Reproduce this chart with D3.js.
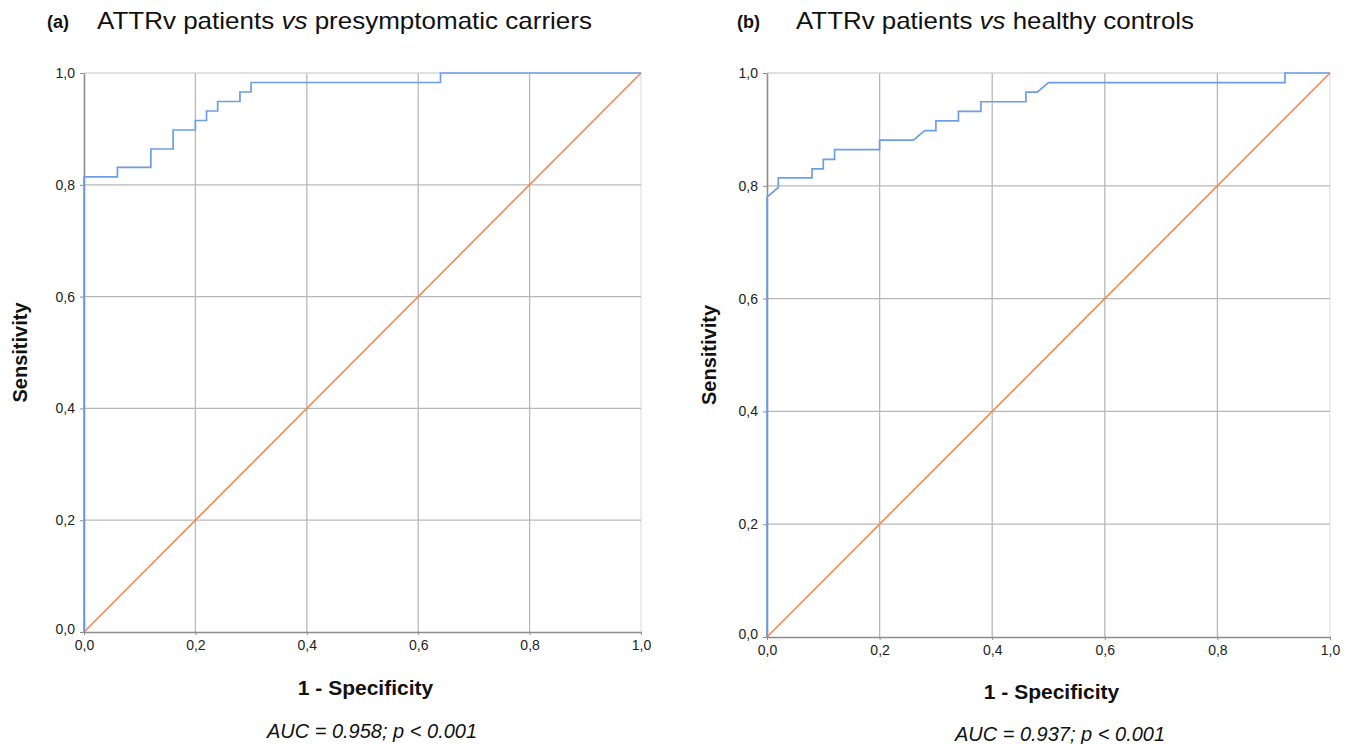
<!DOCTYPE html>
<html>
<head>
<meta charset="utf-8">
<script src="https://cdn.jsdelivr.net/npm/d3@7/dist/d3.min.js"></script>
<style>
  body { margin: 0; background: #fff; }
  svg { font-family: "Liberation Sans", Arial, sans-serif; }
</style>
</head>
<body>
<svg id="chart" width="1352" height="744"></svg>
<script>
// ROC curve points (1 - specificity, sensitivity)
const fprA = [0, 0, 0.06, 0.06, 0.12, 0.12, 0.16, 0.16, 0.20, 0.20, 0.22, 0.22, 0.24, 0.24, 0.28, 0.28, 0.30, 0.30, 0.64, 0.64, 1.0];
const sensA = [0, 0.814, 0.814, 0.831, 0.831, 0.864, 0.864, 0.898, 0.898, 0.915, 0.915, 0.932, 0.932, 0.949, 0.949, 0.966, 0.966, 0.983, 0.983, 1, 1];

const fprB = [0, 0, 0.02, 0.02, 0.08, 0.08, 0.10, 0.10, 0.12, 0.12, 0.20, 0.20, 0.26, 0.28, 0.30, 0.30, 0.34, 0.34, 0.38, 0.38, 0.46, 0.46, 0.48, 0.50, 0.92, 0.92, 1.0];
const sensB = [0, 0.780, 0.797, 0.814, 0.814, 0.830, 0.830, 0.847, 0.847, 0.864, 0.864, 0.881, 0.881, 0.898, 0.898, 0.915, 0.915, 0.932, 0.932, 0.949, 0.949, 0.966, 0.966, 0.983, 0.983, 1, 1];

const refLine = [0, 1];
const ticks = [0, 0.2, 0.4, 0.6, 0.8, 1.0];
const tickLabels = ["0,0", "0,2", "0,4", "0,6", "0,8", "1,0"];

const panels = [
  {tag: "(a)", title: "ATTRv patients ", comp: "presymptomatic carriers", auc: "AUC = 0.958; p < 0.001",
   fpr: fprA, sens: sensA,
   x0: 84, x1: 641, yTop: 73, yBot: 632,
   tagX: 47, titleX: 97, titleW: 495, xlabY: 695, aucX: 372, aucY: 738, ylabX: 27},
  {tag: "(b)", title: "ATTRv patients ", comp: "healthy controls", auc: "AUC = 0.937; p < 0.001",
   fpr: fprB, sens: sensB,
   x0: 767, x1: 1330, yTop: 73, yBot: 637,
   tagX: 737, titleX: 796, titleW: 398, xlabY: 699, aucX: 1060, aucY: 741, ylabX: 716}
];

const svg = d3.select("#chart");

panels.forEach(p => {
  let x = d3.scaleLinear().domain([0, 1]).range([p.x0, p.x1]);
  let y = d3.scaleLinear().domain([0, 1]).range([p.yBot, p.yTop]);
  let g = svg.append("g");

  // grid
  g.selectAll("line.vgrid")
    .data(ticks.slice(1))
    .enter().append("line")
    .attr("x1", d => x(d)).attr("x2", d => x(d))
    .attr("y1", y(0)).attr("y2", y(1))
    .attr("stroke", d => d === 1 ? "#e2e2e2" : "#b8b8b8")
    .attr("stroke-width", 1.3);
  g.selectAll("line.hgrid")
    .data(ticks.slice(1))
    .enter().append("line")
    .attr("x1", x(0)).attr("x2", x(1))
    .attr("y1", d => y(d)).attr("y2", d => y(d))
    .attr("stroke", d => d === 1 ? "#d6d6d6" : "#b8b8b8")
    .attr("stroke-width", 1.3);

  // axes
  let fmt = d => tickLabels[ticks.indexOf(d)];
  let xAxis = g.append("g")
    .attr("transform", `translate(0,${y(0)})`)
    .call(d3.axisBottom(x).tickValues(ticks).tickFormat(fmt).tickSize(3).tickSizeOuter(0));
  let yAxis = g.append("g")
    .attr("transform", `translate(${x(0)},0)`)
    .call(d3.axisLeft(y).tickValues(ticks).tickFormat(fmt).tickSize(4).tickSizeOuter(0));
  [xAxis, yAxis].forEach(a => {
    a.select(".domain").attr("stroke", "#8c8c8c").attr("stroke-width", 1.6);
    a.selectAll(".tick line").attr("stroke", "#8c8c8c");
    a.selectAll(".tick text").attr("fill", "#222").style("font-size", "14px");
  });
  xAxis.selectAll(".tick text").attr("dy", "0.85em");
  yAxis.selectAll(".tick text").attr("x", -9);
  yAxis.selectAll(".tick").filter(d => d === 0).select("text").attr("dy", "0.1em");

  // reference diagonal
  g.append("path")
    .datum(refLine)
    .attr("d", d3.line().x(d => x(d)).y(d => y(d)))
    .attr("fill", "none")
    .attr("stroke", "#f4874f")
    .attr("stroke-width", 1.6);

  // ROC curve
  let pts = p.fpr.map((f, i) => [f, p.sens[i]]);
  g.append("path")
    .datum(pts)
    .attr("d", d3.line().x(d => x(d[0])).y(d => y(d[1])))
    .attr("fill", "none")
    .attr("stroke", "#6c9ee6")
    .attr("stroke-width", 1.7);

  // titles
  svg.append("text")
    .attr("x", p.tagX).attr("y", 28)
    .style("font-size", "18px").style("font-weight", "bold")
    .attr("fill", "#111")
    .text(p.tag);
  let t = svg.append("text")
    .attr("x", p.titleX).attr("y", 29)
    .style("font-size", "24px")
    .attr("fill", "#111")
    .attr("textLength", p.titleW).attr("lengthAdjust", "spacingAndGlyphs");
  t.append("tspan").text(p.title);
  t.append("tspan").style("font-style", "italic").text("vs");
  t.append("tspan").text(" " + p.comp);

  // axis titles
  svg.append("text")
    .attr("x", (p.x0 + p.x1) / 2 + 3).attr("y", p.xlabY)
    .attr("text-anchor", "middle")
    .style("font-size", "21px").style("font-weight", "bold")
    .attr("fill", "#111")
    .text("1 - Specificity");
  svg.append("text")
    .attr("transform", `translate(${p.ylabX},${(p.yTop + p.yBot) / 2}) rotate(-90)`)
    .attr("text-anchor", "middle")
    .style("font-size", "20px").style("font-weight", "bold")
    .attr("fill", "#111")
    .text("Sensitivity");

  svg.append("text")
    .attr("x", p.aucX).attr("y", p.aucY)
    .attr("text-anchor", "middle")
    .style("font-size", "20px").style("font-style", "italic")
    .attr("fill", "#111")
    .text(p.auc);
});
</script>
</body>
</html>
